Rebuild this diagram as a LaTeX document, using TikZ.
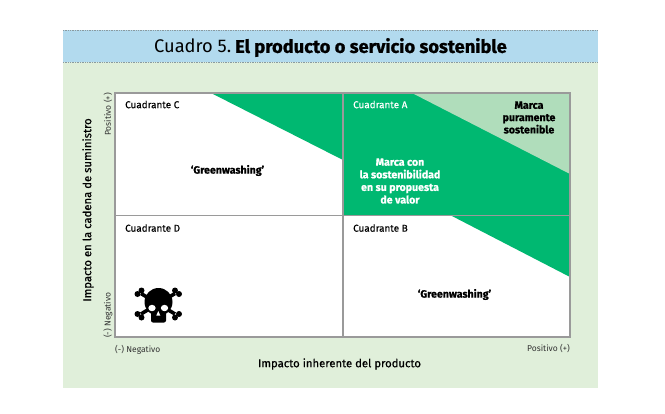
\documentclass[tikz,border=0pt]{standalone}
\usepackage{fontspec}
\setmainfont{Fira Sans}[BoldFeatures={FakeBold=0.9}]
\newfontfamily\axisfont{Fira Sans}[FakeBold=0.5]
\newfontfamily\quadfont{Fira Sans}[FakeBold=0.15]
\definecolor{panel}{HTML}{E0EFDA}
\definecolor{head}{HTML}{B2DAEE}
\definecolor{dgreen}{HTML}{00B871}
\definecolor{lgreen}{HTML}{B0DDBB}
\definecolor{frame}{HTML}{9A9A9A}
\definecolor{dots}{HTML}{8A9AA0}
\tikzset{
  small/.style={font=\fontsize{8.5}{10}\selectfont, text=black!80, inner sep=0pt},
  quad/.style={font=\quadfont\fontsize{9.9}{11}\selectfont, inner sep=0pt, anchor=west},
  lab/.style={font=\fontsize{10.6}{12.3}\selectfont\bfseries, inner sep=0pt, align=center},
  axis/.style={font=\axisfont\fontsize{11.3}{13}\selectfont, inner sep=0pt},
  bone/.style={line width=3.6pt, black},
}
\begin{document}
\begin{tikzpicture}[x=1pt,y=-1pt]
\useasboundingbox (0,0) rectangle (665,413);
\fill[white] (0,0) rectangle (665,413);
\fill[panel] (63,30) rectangle (598,388);
\fill[head] (63,30) rectangle (598,62);
\draw[dots,line width=.7pt,densely dotted] (63,30) -- (598,30) (63,62) -- (598,62);
\node[inner sep=0pt,font=\fontsize{18.3}{20}\selectfont] (title) at (330.5,47.5) {Cuadro 5.\kern-1pt\ \textbf{El producto o servicio sostenible}};
% plot
\fill[white] (115,93) rectangle (570,337);
\fill[dgreen] (211,93) -- (343,160) -- (343,93) -- cycle;
\fill[dgreen] (343,93) rectangle (570,215);
\fill[lgreen] (412,93) -- (570,174) -- (570,93) -- cycle;
\fill[dgreen] (450,215) -- (570,277) -- (570,215) -- cycle;
\draw[frame,line width=1.1pt] (115,93) rectangle (570,337) (343,93) -- (343,337) (115,215.5) -- (570,215.5);
% labels
\node[quad] (c) at (125,104.5) {Cuadrante C};
\node[quad,text=white] (a) at (353,104.5) {Cuadrante A};
\node[quad] (d) at (125,228) {Cuadrante D};
\node[quad] (b) at (353,228) {Cuadrante B};
\node[lab] (g1) at (227.5,170.5) {‘Greenwashing’};
\node[lab] (g2) at (454.5,294.5) {‘Greenwashing’};
\node[lab] (pure) at (529,117.5) {Marca\\puramente\\sostenible};
\node[lab,text=white] (valor) at (400,181) {Marca con\\[.3pt]la sostenibilidad\\[.3pt]en su propuesta\\[.3pt]de valor};
\node[axis,rotate=90] (yaxis) at (88,210) {Impacto en la cadena de suministro};
\node[axis] (xaxis) at (339.5,364) {Impacto inherente del producto};
\node[small,rotate=90,anchor=east] (yp) at (108,93) {Positivo (+)};
\node[small,rotate=90,anchor=west] (yn) at (108,338) {(-) Negativo};
\node[small,anchor=west] (xn) at (115,350) {(-) Negativo};
\node[small,anchor=east] (xp) at (570,349) {Positivo (+)};
% skull
\draw[bone] (141,293.5) -- (175,314) (175,293.5) -- (141,314);
\foreach \x/\y in {137.5/294,141.5/290.5,179/294,175/290.5,137.5/314,141.5/317.5,179/314,175/317.5}
  \fill (\x,\y) circle (3pt);
\fill (158.5,302) ellipse (14pt and 14pt);
\fill[rounded corners=2pt] (151,308) rectangle (166,322.5);
\fill[white] (152,308) ellipse (3.7pt and 3.2pt);
\fill[white] (164.5,308) ellipse (3.7pt and 3.2pt);
\fill[white] (158.3,311) -- (156.3,315.5) -- (160.3,315.5) -- cycle;
\end{tikzpicture}
\end{document}
